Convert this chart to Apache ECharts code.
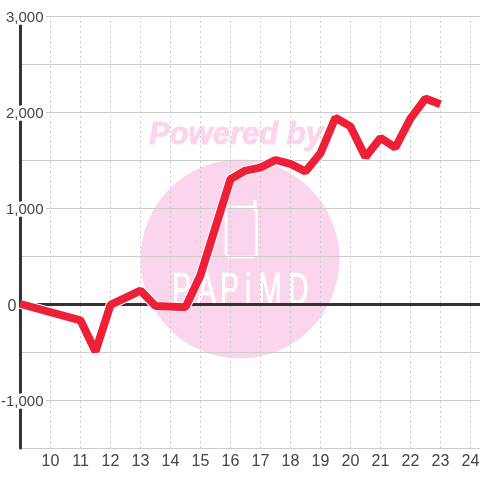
<!DOCTYPE html>
<html><head><meta charset="utf-8">
<style>html,body{margin:0;padding:0;background:#fff}#c{width:480px;height:480px}</style>
<script src="https://cdn.jsdelivr.net/npm/echarts@6/dist/echarts.min.js"></script>
</head><body><div id="c"></div>
<script>
const hours = [9,11,11.5,12,13,13.5,14.5,15,16,16.5,17,17.5,18,18.5,19,19.5,20,20.5,21,21.5,22,22.5,23];
const values = [0,-170,-495,-10,140,-20,-35,300,1300,1390,1420,1500,1460,1380,1570,1940,1850,1530,1730,1630,1930,2140,2080];
const points = hours.map((h,i)=>[h,values[i]]);
const pink = '#fbd5ec';
const logoLetters = [['P',172],['A',197],['P',220],['i',245],['M',258],['D',288]];
const chart = echarts.init(document.getElementById('c'),null,{renderer:'canvas'});
chart.setOption({
  animation:false,
  backgroundColor:'#fff',
  grid:{left:20.5,right:0,top:16,bottom:32,containLabel:false,outerBoundsMode:'none'},
  xAxis:{type:'value',min:9,max:24.32,interval:1,
    axisLine:{show:true,onZero:true,lineStyle:{color:'#333',width:3}},
    axisTick:{show:false},
    axisLabel:{show:true,showMinLabel:false,showMaxLabel:false,color:'#444',fontFamily:'Liberation Sans',fontSize:16,margin:6},
    splitLine:{show:true,showMinLine:false,showMaxLine:false,lineStyle:{color:'#ccc',width:1,type:[2,3]}}},
  yAxis:{type:'value',min:-1500,max:3000,interval:500,
    axisLine:{show:true,lineStyle:{color:'#333',width:3}},
    axisTick:{show:false},
    axisLabel:{inside:true,margin:23,align:'right',color:'#444',fontFamily:'Liberation Sans',fontSize:15,
      textBorderColor:'#fff',textBorderWidth:6,padding:[3,0,0,0],
      showMinLabel:false,
      rich:{z:{fontFamily:'Liberation Sans',fontSize:16,color:'#444',padding:[3,27,0,0]}},
      formatter:v=> v===0 ? '{z|0}' : (v%1000===0 ? echarts.format.addCommas(v) : '')},
    splitLine:{show:true,lineStyle:{color:'#ccc',width:1}}},
  graphic:[
    {type:'circle',z:-10,shape:{cx:240,cy:259,r:99.5},style:{fill:pink}},
    {type:'text',z:-9,x:149,y:120,style:{text:'Powered by',fill:pink,stroke:pink,lineWidth:1,font:'italic bold 31px "Liberation Sans"'}},
    {type:'rect',z:-9,shape:{x:226,y:207,width:30.5,height:50,r:4},style:{fill:'none',stroke:'#fff',lineWidth:2.5}},
    {type:'line',z:-9,shape:{x1:255,y1:201,x2:255,y2:209},style:{stroke:'#fff',lineWidth:3,lineCap:'round'}},
    ...logoLetters.map(([t,x])=>({type:'text',z:-9,x:x,y:270,scaleX:0.65,style:{text:t,fill:'#fff',stroke:'#fff',lineWidth:0.7,font:'44px "Liberation Sans"'}}))
  ],
  series:[
    {type:'line',data:points,showSymbol:false,silent:true,z:3,lineStyle:{color:'#fff',width:10}},
    {type:'line',data:points,showSymbol:false,silent:true,z:4,lineStyle:{color:'#ee2038',width:8}}
  ]
});
</script></body></html>
